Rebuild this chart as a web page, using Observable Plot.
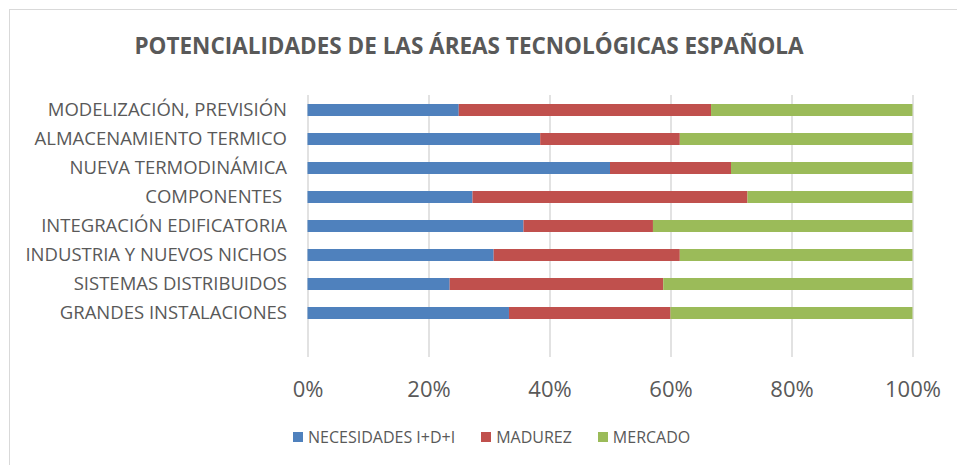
<!DOCTYPE html>
<html><head><meta charset="utf-8">
<script src="https://cdn.jsdelivr.net/npm/d3@7"></script>
<script src="https://cdn.jsdelivr.net/npm/@observablehq/plot@0.6"></script>
<style>
html,body{margin:0;padding:0;background:#fff;overflow:hidden;width:957px;height:465px;}
#wrap{position:relative;width:957px;height:465px;font-family:"Open Sans",sans-serif;color:#595959;}
#frame{position:absolute;left:9px;top:9px;width:1000px;height:1000px;border:1px solid #d9d9d9;box-sizing:border-box;}
#title{position:absolute;left:0;width:938px;top:31px;text-align:center;font-weight:bold;font-size:22.5px;line-height:30px;color:#595959;white-space:nowrap;}
#chart{position:absolute;left:0;top:0;}
#legend{position:absolute;left:293px;top:427px;display:flex;align-items:center;font-size:16px;line-height:20px;white-space:nowrap;}
#legend .item{display:flex;align-items:center;margin-right:26px;}
#legend .sw{width:10px;height:10px;margin-right:5px;}
svg text{white-space:pre;}
</style></head>
<body><div id="wrap">
<div id="frame"></div>
<div id="title">POTENCIALIDADES DE LAS ÁREAS TECNOLÓGICAS ESPAÑOLA</div>
<div id="chart"></div>
<div id="legend"></div>
</div>
<script>
const categories = [
  "MODELIZACIÓN, PREVISIÓN",
  "ALMACENAMIENTO TERMICO",
  "NUEVA TERMODINÁMICA",
  "COMPONENTES ",
  "INTEGRACIÓN EDIFICATORIA",
  "INDUSTRIA Y NUEVOS NICHOS",
  "SISTEMAS DISTRIBUIDOS",
  "GRANDES INSTALACIONES"
];
const seriesNames = ["NECESIDADES I+D+I", "MADUREZ", "MERCADO"];
const necesidades = [25.0, 38.5, 50.0, 27.3, 35.7, 30.8, 23.5, 33.3];
const madurez     = [41.7, 23.1, 20.0, 45.5, 21.4, 30.8, 35.3, 26.7];
const mercado     = [33.3, 38.5, 30.0, 27.3, 42.9, 38.5, 41.2, 40.0];
const colors = ["#4F81BD", "#C0504D", "#9BBB59"];
const xTicks = [0, 0.2, 0.4, 0.6, 0.8, 1];

const series = [necesidades, madurez, mercado];
const rows = [];
categories.forEach((c, i) => {
  const total = series.reduce((s, arr) => s + arr[i], 0);
  series.forEach((arr, k) => rows.push({cat: c, serie: seriesNames[k], value: arr[i] / total, order: k}));
});

const plot = Plot.plot({
  width: 957,
  height: 465,
  marginLeft: 307.5,
  marginRight: 44.5,
  marginTop: 95,
  marginBottom: 108,
  style: {fontFamily: "'Open Sans', sans-serif", fontSize: "17px", color: "#595959", background: "transparent"},
  x: {domain: [0, 1], ticks: xTicks, tickFormat: d3.format(".0%"), label: null},
  y: {domain: categories, paddingInner: 0.6, paddingOuter: 0.3, insetBottom: 29.14, label: null},
  color: {domain: seriesNames, range: colors},
  marks: [
    Plot.ruleX(xTicks, {stroke: "#d9d9d9", strokeWidth: 1.5}),
    Plot.barX(rows, Plot.stackX({x: "value", y: "cat", fill: "serie", order: "order"})),
    Plot.axisX({ticks: xTicks, tickFormat: d3.format(".0%"), tickSize: 0, tickPadding: 24, fill: "#595959", fontSize: 22, label: null}),
    Plot.axisY({tickSize: 0, tickPadding: 21, fill: "#595959", fontSize: 18.5, label: null})
  ]
});
document.getElementById("chart").appendChild(plot);

const legend = document.getElementById("legend");
seriesNames.forEach((n, k) => {
  const it = document.createElement("div");
  it.className = "item";
  const sw = document.createElement("div");
  sw.className = "sw";
  sw.style.background = colors[k];
  const t = document.createElement("span");
  t.textContent = n;
  it.appendChild(sw); it.appendChild(t);
  legend.appendChild(it);
});
</script>
</body></html>
